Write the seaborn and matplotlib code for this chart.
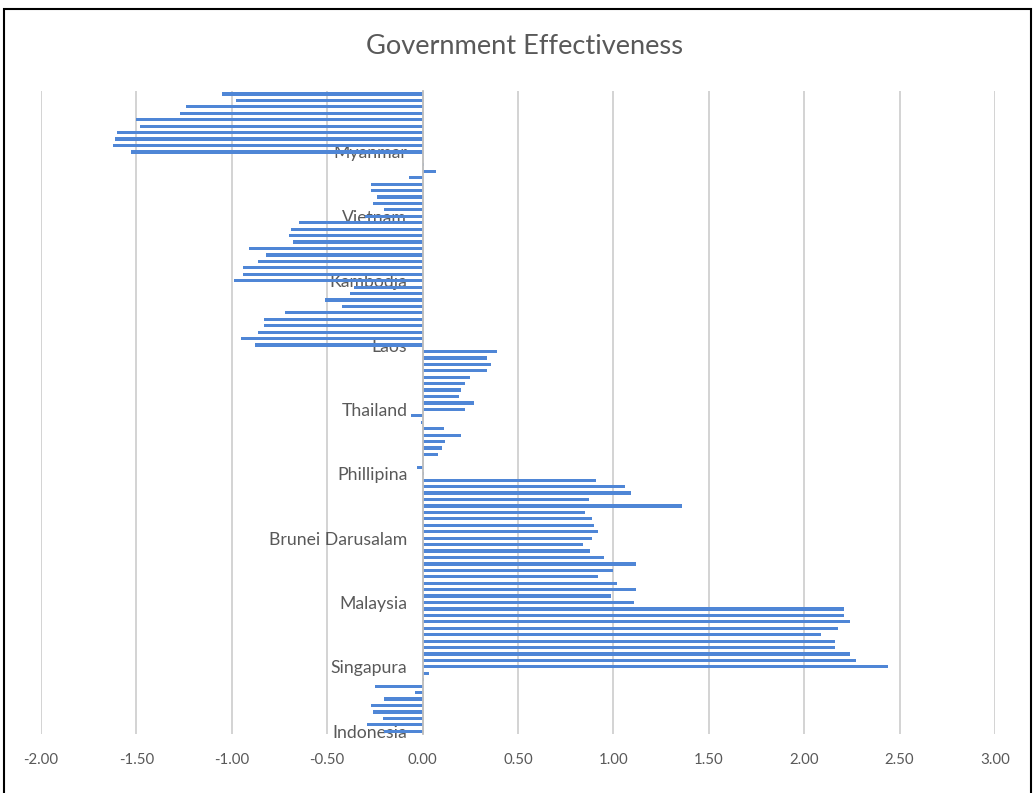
import numpy as np
import pandas as pd
import matplotlib.pyplot as plt
import seaborn as sns
from matplotlib.patches import Rectangle

# Country blocks, top to bottom as drawn; label sits on the last bar of each block
countries = ["Myanmar", "Vietnam", "Kambodja", "Laos", "Thailand",
             "Phillipina", "Brunei Darusalam", "Malaysia", "Singapura", "Indonesia"]

myanmar = [-1.05, -0.98, -1.24, -1.27, -1.50, -1.48, -1.60, -1.61, -1.62, -1.53]
vietnam = [0.00, 0.01, 0.07, -0.07, -0.27, -0.27, -0.24, -0.26, -0.20, -0.30]
kambodja = [-0.65, -0.69, -0.70, -0.68, -0.91, -0.82, -0.86, -0.94, -0.94, -0.99]
laos = [-0.36, -0.38, -0.51, -0.42, -0.72, -0.83, -0.83, -0.86, -0.95, -0.88]
thailand = [0.39, 0.34, 0.36, 0.34, 0.25, 0.22, 0.20, 0.19, 0.27, 0.22]
phillipina = [-0.06, -0.01, 0.11, 0.20, 0.12, 0.10, 0.08, 0.00, -0.03, 0.005]
brunei = [0.91, 1.06, 1.09, 0.87, 1.36, 0.85, 0.89, 0.90, 0.92, 0.89]
malaysia = [0.84, 0.88, 0.95, 1.12, 1.00, 0.92, 1.02, 1.12, 0.99, 1.11]
singapura = [2.21, 2.21, 2.24, 2.18, 2.09, 2.16, 2.16, 2.24, 2.27, 2.44]
indonesia = [0.035, 0.007, -0.25, -0.04, -0.20, -0.27, -0.26, -0.21, -0.29, -0.20]

blocks = [myanmar, vietnam, kambodja, laos, thailand,
          phillipina, brunei, malaysia, singapura, indonesia]

xticks = [-2.0, -1.5, -1.0, -0.5, 0.0, 0.5, 1.0, 1.5, 2.0, 2.5, 3.0]

rows = []
for name, vals in zip(countries, blocks):
    for i, v in enumerate(vals):
        rows.append({"row": len(rows), "value": v,
                     "label": name if i == len(vals) - 1 else ""})
df = pd.DataFrame(rows)

sns.set_style("white")
plt.rcParams["font.family"] = ["Lato", "DejaVu Sans"]

BLUE = "#4F86D6"
GREY_TXT = "#595959"

fig = plt.figure(figsize=(10.35, 7.93), dpi=100)
ax = fig.add_axes([0.0396, 0.0738, 0.9217, 0.8117])

sns.barplot(data=df, x="value", y="row", orient="h", order=list(df["row"]),
            color=BLUE, saturation=1, width=0.5, errorbar=None, linewidth=0, ax=ax)

ax.set_xlim(-2, 3)
ax.set_ylim(len(df) - 0.5, -0.5)
ax.set_xticks(xticks)
ax.set_xticklabels([f"{v:.2f}" for v in xticks])

lab = df[df["label"] != ""]
ax.set_yticks(lab["row"].tolist())
ax.set_yticklabels(lab["label"].tolist())
ax.set_xlabel("")
ax.set_ylabel("")

ax.tick_params(axis="x", length=0, pad=13, labelsize=10.8, labelcolor=GREY_TXT)
ax.tick_params(axis="y", length=0, pad=11, labelsize=12.7, labelcolor=GREY_TXT)

ax.grid(axis="x", color="#d0d0d0", lw=1.3)
ax.grid(axis="y", visible=False)
ax.set_axisbelow(True)

for s in ["top", "right", "bottom"]:
    ax.spines[s].set_visible(False)
ax.spines["left"].set_position(("data", 0))
ax.spines["left"].set_color("#bfbfbf")
ax.spines["left"].set_linewidth(1.3)

fig.text(0.507, 1 - 46 / 793, "Government Effectiveness", ha="center", va="center",
         fontsize=19.6, color=GREY_TXT)

# outer frame of the chart (runs off the bottom edge)
fig.add_artist(Rectangle((4 / 1035, -0.05), 1027 / 1035, (793 - 9) / 793 + 0.05,
                         transform=fig.transFigure, fill=False, lw=1.5,
                         edgecolor="black", clip_on=False))

fig.savefig("out.png", dpi=100)
